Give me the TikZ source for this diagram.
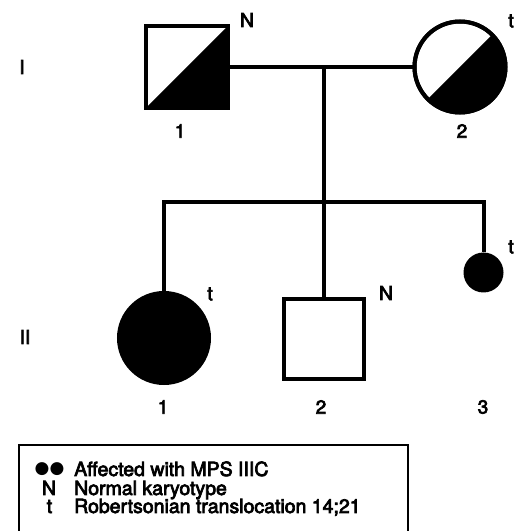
\documentclass[tikz,border=0pt]{standalone}
\usepackage{fontspec}
\setmainfont{TeX Gyre Heros}
\newfontfamily\symfont{DejaVu Sans}
\newcommand\heavytext{\special{pdf:literal direct 2 Tr 0.7 w}}
\begin{document}
\begin{tikzpicture}[x=1pt,y=1pt,
  ped/.style={line width=4pt},
  malebox/.style={draw, line width=4pt, rectangle, outer sep=0pt, inner sep=0pt},
  femcirc/.style={draw, line width=4pt, circle, outer sep=0pt, inner sep=0pt},
  lbl/.style={inner sep=0pt, font=\fontsize{19}{19}\selectfont\heavytext},
  gen/.style={inner sep=0pt, font=\fontsize{19}{19}\selectfont\heavytext},
  legtext/.style={inner sep=0pt, anchor=base west, font=\fontsize{19.5}{19.5}\selectfont\heavytext},
  legsym/.style={inner sep=0pt, anchor=base, font=\fontsize{19.5}{19.5}\selectfont\heavytext}
]
\useasboundingbox (0,0) rectangle (522,531);

% Generation I
\node[malebox, minimum size=82pt] (m1) at (187,464) {};
\fill (m1.south west) -- (m1.north east) -- (m1.south east) -- cycle;
\node[malebox, minimum size=82pt] at (187,464) {};
\node[femcirc, minimum size=91pt] (f2) at (460,464) {};
\fill (f2.center) ++(-135:45.5) arc[start angle=-135, end angle=45, radius=45.5] -- cycle;
\node[femcirc, minimum size=91pt] at (460,464) {};

\draw[ped] (m1.east) -- (f2.west);
\coordinate (mid) at (324,464);
\coordinate (sib) at (324,329);
\draw[ped] (mid) -- (sib);

\node[lbl] (n1) at (247,511) {N};
\node[lbl] (t2) at (511,510) {t};
\node[lbl] (l11) at (180,400) {1};
\node[lbl] (l12) at (462,400) {2};
\node[gen] (g1) at (22,464) {I};

% Generation II
\node[femcirc, fill=black, minimum size=90pt] (c1) at (164,193) {};
\node[malebox, minimum size=80pt] (c2) at (324,192) {};
\node[circle, fill=black, minimum size=40pt, inner sep=0pt, outer sep=0pt] (c3) at (483.5,258.5) {};

\coordinate (s1) at (164,329);
\coordinate (s3) at (483.5,329);
\draw[ped, line join=miter] (c1.north) -- (s1) -- (s3) -- (c3.north);
\draw[ped] (sib) -- (c2.north);

\node[lbl] (tc1) at (210,237) {t};
\node[lbl] (nc2) at (386,238) {N};
\node[lbl] (tc3) at (511,284) {t};
\node[gen] (g2) at (25,194) {II};
\node[lbl] (l21) at (163,124) {1};
\node[lbl] (l22) at (321,124) {2};
\node[lbl] (l23) at (483,124) {3};

% Legend
\draw[line width=2pt] (19,-5) -- (19,86) -- (408,86) -- (408,-5);
\node[inner sep=0pt, font=\symfont\fontsize{17}{17}\selectfont] (dots) at (49.5,62) {●●};
\node[legtext] (lt1) at (74,55) {Affected with MPS IIIC};
\node[legsym] (ls2) at (49,36) {N};
\node[legtext] (lt2) at (74,36) {Normal karyotype};
\node[legsym] (ls3) at (49.5,18) {t};
\node[legtext] (lt3) at (74,18) {Robertsonian translocation 14;21};
\end{tikzpicture}
\end{document}
